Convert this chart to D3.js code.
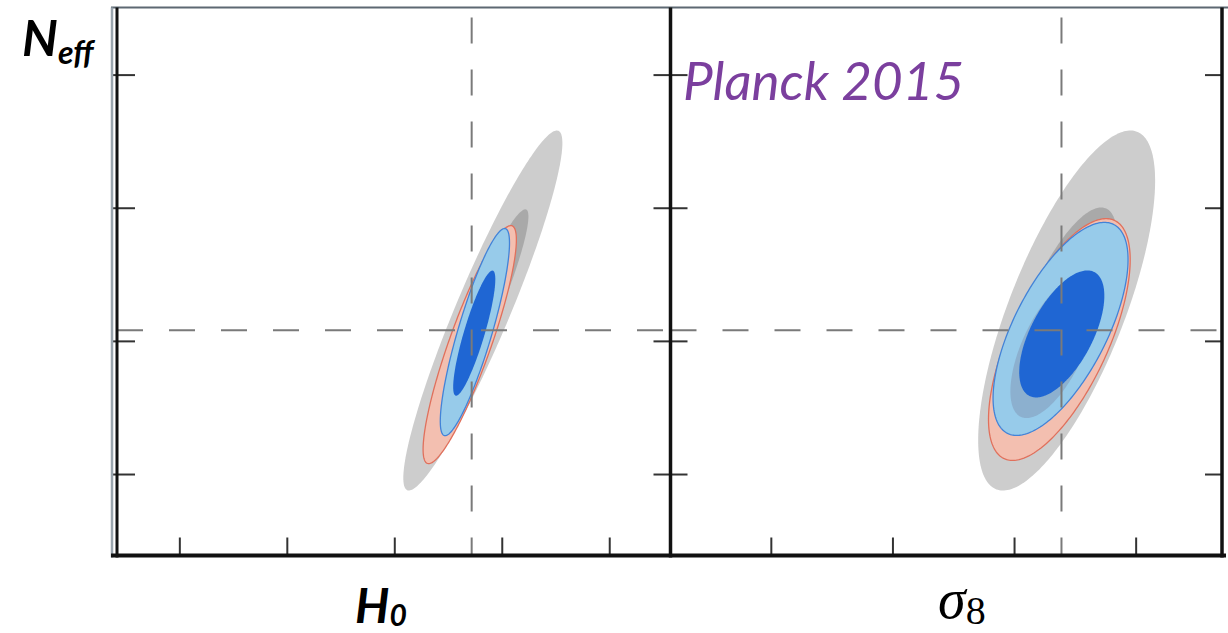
<!DOCTYPE html>
<html>
<head>
<meta charset="utf-8">
<script src="https://cdn.jsdelivr.net/npm/d3@7"></script>
<style>
  html, body { margin: 0; padding: 0; background: #ffffff; }
  svg { display: block; }
</style>
</head>
<body>
<svg id="chart" width="1228" height="633"></svg>
<script>
// ---- axis domains and tick values -------------------------------------
const h0Domain = [57.1, 82.85];
const h0Ticks = [60, 65, 70, 75, 80];
const s8Domain = [0.687, 0.8684];
const s8Ticks = [0.72, 0.76, 0.80, 0.84];
const neffDomain = [2.194, 4.252];
const neffTicks = [2.5, 3.0, 3.5, 4.0];

// fiducial values marked by the dashed cross-hairs
const h0Fiducial = 73.6;
const s8Fiducial = 0.8156;
const neffFiducial = 3.04;

// ---- confidence contours, Neff vs H0 (drawn back to front) -------------
const h0Layers   = ["grey95", "grey68", "red95", "blue95", "blue68"];
const h0Mean     = [74.12, 74.14, 73.51, 73.75, 73.72];
const h0Half     = [3.70, 2.10, 2.17, 1.61, 0.98];
const neffMeanA  = [3.114, 3.107, 2.986, 3.033, 3.029];
const neffHalfA  = [0.676, 0.387, 0.447, 0.389, 0.235];
const rhoA       = [0.93, 0.93, 0.88, 0.86, 0.86];

// ---- confidence contours, Neff vs sigma8 -------------------------------
const s8Layers   = ["grey95", "grey68", "red95", "blue95", "mix68", "blue68"];
const s8Mean     = [0.8173, 0.8152, 0.8149, 0.8153, 0.8128, 0.8157];
const s8Half     = [0.0291, 0.0187, 0.0233, 0.0222, 0.0140, 0.0140];
const neffMeanB  = [3.114, 3.084, 3.005, 3.045, 2.975, 3.026];
const neffHalfB  = [0.676, 0.417, 0.454, 0.400, 0.265, 0.2385];
const rhoB       = [0.72, 0.72, 0.66, 0.65, 0.62, 0.60];

// ---- styles --------------------------------------------------------------
const layerStyle = {
  grey95: { fill: "#cdcdcd", stroke: "none" },
  grey68: { fill: "#a9a9a9", stroke: "none" },
  red95:  { fill: "#f3bfb0", stroke: "#e0705c" },
  blue95: { fill: "#97cbea", stroke: "#4283d8" },
  mix68:  { fill: "#8cb0cf", stroke: "none" },
  blue68: { fill: "#1f66d3", stroke: "none" }
};

const svg = d3.select("#chart");

const yTop = 7.5, yBottom = 555.5;
const leftX = [117, 670.5];
const rightX = [670.5, 1222];

const y = d3.scaleLinear().domain(neffDomain).range([yBottom, yTop]);
const xH0 = d3.scaleLinear().domain(h0Domain).range(leftX);
const xS8 = d3.scaleLinear().domain(s8Domain).range(rightX);

// clip each panel to its own frame
const defs = svg.append("defs");
[["clipL", leftX], ["clipR", rightX]].forEach(([id, xr]) => {
  defs.append("clipPath").attr("id", id)
    .append("rect")
    .attr("x", xr[0]).attr("y", yTop)
    .attr("width", xr[1] - xr[0]).attr("height", yBottom - yTop);
});

// closed curve of a correlated-Gaussian contour
function contourPoints(mx, hx, my, hy, rho) {
  const pts = [];
  const s = Math.sqrt(1 - rho * rho);
  for (let i = 0; i < 240; i++) {
    const t = (i / 240) * 2 * Math.PI;
    pts.push([mx + hx * Math.cos(t), my + hy * (rho * Math.cos(t) + s * Math.sin(t))]);
  }
  return pts;
}

function drawPanel(clipId, xScale, names, mx, hx, my, hy, rho) {
  const g = svg.append("g").attr("clip-path", `url(#${clipId})`);
  const line = d3.line()
    .x(d => xScale(d[0]))
    .y(d => y(d[1]))
    .curve(d3.curveLinearClosed);
  names.forEach((name, i) => {
    const st = layerStyle[name];
    g.append("path")
      .attr("d", line(contourPoints(mx[i], hx[i], my[i], hy[i], rho[i])))
      .attr("fill", st.fill)
      .attr("stroke", st.stroke)
      .attr("stroke-width", 1.3);
  });
  return g;
}

const gL = drawPanel("clipL", xH0, h0Layers, h0Mean, h0Half, neffMeanA, neffHalfA, rhoA);
const gR = drawPanel("clipR", xS8, s8Layers, s8Mean, s8Half, neffMeanB, neffHalfB, rhoB);

// dashed fiducial cross-hairs
const dashStyle = sel => sel.attr("stroke", "#7a7a7a").attr("stroke-width", 2)
  .attr("stroke-dasharray", "26 26").attr("fill", "none");

[[gL, leftX, xH0(h0Fiducial)], [gR, rightX, xS8(s8Fiducial)]].forEach(([g, xr, fx]) => {
  g.append("line").call(dashStyle)
    .attr("x1", xr[0]).attr("x2", xr[1])
    .attr("y1", y(neffFiducial)).attr("y2", y(neffFiducial));
  g.append("line").call(dashStyle)
    .attr("x1", fx).attr("x2", fx)
    .attr("y1", yTop + 10).attr("y2", yBottom);
});

// ---- ticks ----------------------------------------------------------------
function tickAxis(axis, tx, ty, size) {
  const g = svg.append("g")
    .attr("transform", `translate(${tx},${ty})`)
    .call(axis.tickSize(size).tickSizeOuter(0).tickFormat(""));
  g.select(".domain").remove();
  g.selectAll(".tick line").attr("stroke", "#333").attr("stroke-width", 2);
  return g;
}
tickAxis(d3.axisRight(y).tickValues(neffTicks), 112, 0, 23);
tickAxis(d3.axisLeft(y).tickValues(neffTicks), 670.5, 0, 17);
tickAxis(d3.axisRight(y).tickValues(neffTicks), 670.5, 0, 17);
tickAxis(d3.axisLeft(y).tickValues(neffTicks), 1222, 0, 17);
tickAxis(d3.axisTop(xH0).tickValues(h0Ticks), 0, yBottom, 18);
tickAxis(d3.axisTop(xS8).tickValues(s8Ticks), 0, yBottom, 18);

// ---- frame ------------------------------------------------------------------
const frame = svg.append("g").attr("fill", "none");
frame.append("line").attr("x1", 111).attr("x2", 1228).attr("y1", yTop).attr("y2", yTop)
  .attr("stroke", "#5d6872").attr("stroke-width", 2);
frame.append("line").attr("x1", 112).attr("x2", 112).attr("y1", yTop).attr("y2", yBottom + 2)
  .attr("stroke", "#9aa5ae").attr("stroke-width", 2.5);
frame.append("line").attr("x1", 117).attr("x2", 117).attr("y1", yTop).attr("y2", yBottom + 2)
  .attr("stroke", "#111").attr("stroke-width", 3);
frame.append("line").attr("x1", 670.5).attr("x2", 670.5).attr("y1", yTop).attr("y2", yBottom + 2)
  .attr("stroke", "#111").attr("stroke-width", 3.5);
frame.append("line").attr("x1", 1222).attr("x2", 1222).attr("y1", yTop).attr("y2", yBottom + 2)
  .attr("stroke", "#111").attr("stroke-width", 3.5);
frame.append("line").attr("x1", 111).attr("x2", 1226).attr("y1", yBottom).attr("y2", yBottom)
  .attr("stroke", "#111").attr("stroke-width", 4);

// ---- labels -------------------------------------------------------------------
const sans = "Lato, 'Open Sans', sans-serif";
const neffLabel = svg.append("text").attr("x", 22).attr("y", 56)
  .attr("font-family", sans).attr("font-weight", 700).attr("font-style", "italic")
  .attr("font-size", 50).attr("fill", "#000");
neffLabel.append("tspan").text("N");
neffLabel.append("tspan").attr("font-size", 32).attr("dy", 8).text("eff");

const h0Label = svg.append("text").attr("x", 355).attr("y", 623)
  .attr("font-family", sans).attr("font-weight", 700).attr("font-style", "italic")
  .attr("font-size", 48).attr("fill", "#000");
h0Label.append("tspan").text("H");
h0Label.append("tspan").attr("font-size", 30).attr("dy", 3).text("0");

const s8Label = svg.append("text").attr("x", 938).attr("y", 618)
  .attr("font-family", "'Liberation Serif', 'DejaVu Serif', serif")
  .attr("font-size", 56).attr("fill", "#000");
s8Label.append("tspan").attr("font-style", "italic").text("σ");
s8Label.append("tspan").attr("font-size", 40).attr("dy", 6).text("8");

svg.append("text").attr("x", 683).attr("y", 100)
  .attr("font-family", sans).attr("font-style", "italic")
  .attr("font-size", 53).attr("fill", "#7b3f9e")
  .text("Planck 2015");
</script>
</body>
</html>
